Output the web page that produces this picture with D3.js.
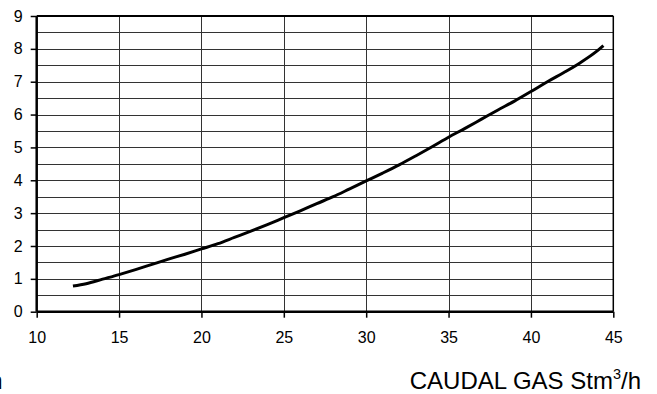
<!DOCTYPE html>
<html>
<head>
<meta charset="utf-8">
<script src="https://cdn.jsdelivr.net/npm/d3@7"></script>
<style>
  html, body { margin: 0; padding: 0; background: #fff; }
  svg { display: block; }
  text { font-family: "Liberation Sans", Arial, sans-serif; fill: #000; }
</style>
</head>
<body>
<svg id="chart" width="657" height="394"></svg>
<script>
// Gas flow (Stm³/h) against the measured quantity
const flow = [12.2, 13, 14, 15, 16, 17, 18, 19, 20, 21, 22, 23, 24, 25, 26, 27, 28, 29, 30,
              31, 32, 33, 34, 35, 36, 37, 38, 39, 40, 41, 42, 43, 44, 44.4];
const value = [0.78, 0.85, 0.99, 1.13, 1.28, 1.44, 1.6, 1.75, 1.91, 2.07, 2.26, 2.45, 2.65, 2.86,
               3.07, 3.29, 3.5, 3.74, 3.98, 4.22, 4.47, 4.74, 5.02, 5.31, 5.58, 5.86, 6.14,
               6.41, 6.70, 7.0, 7.28, 7.58, 7.93, 8.1];
const xTicks = [10, 15, 20, 25, 30, 35, 40, 45];
const yTicks = [0, 1, 2, 3, 4, 5, 6, 7, 8, 9];
const yGrid = [0.5, 1, 1.5, 2, 2.5, 3, 3.5, 4, 4.5, 5, 5.5, 6, 6.5, 7, 7.5, 8, 8.5];
const xTitle = ["CAUDAL GAS Stm", "3", "/h"];

const svg = d3.select("#chart");
const plotLeft = 36.7, plotRight = 613.3, plotTop = 16, plotBottom = 311.7;

const x = d3.scaleLinear().domain([10, 45]).range([plotLeft, plotRight]);
const y = d3.scaleLinear().domain([0, 9]).range([plotBottom, plotTop]);

// grid
svg.append("g").selectAll("line").data(yGrid).join("line")
  .attr("x1", plotLeft).attr("x2", plotRight)
  .attr("y1", d => Math.round(y(d)) + 0.5).attr("y2", d => Math.round(y(d)) + 0.5)
  .attr("stroke", "#333").attr("stroke-width", 1);
svg.append("g").selectAll("line").data(xTicks.slice(1, -1)).join("line")
  .attr("x1", d => Math.round(x(d)) + 0.5).attr("x2", d => Math.round(x(d)) + 0.5)
  .attr("y1", plotTop).attr("y2", plotBottom)
  .attr("stroke", "#333").attr("stroke-width", 1);

// frame: top and right
svg.append("line").attr("x1", plotLeft).attr("x2", plotRight).attr("y1", plotTop).attr("y2", plotTop)
  .attr("stroke", "#000").attr("stroke-width", 2);
svg.append("line").attr("x1", plotRight).attr("x2", plotRight).attr("y1", plotTop).attr("y2", plotBottom)
  .attr("stroke", "#000").attr("stroke-width", 1.5);

// axes
const xAxis = d3.axisBottom(x).tickValues(xTicks).tickSize(6).tickPadding(14);
const yAxis = d3.axisLeft(y).tickValues(yTicks).tickSize(6).tickPadding(8);

const gx = svg.append("g").attr("transform", `translate(0,${plotBottom})`).call(xAxis);
const gy = svg.append("g").attr("transform", `translate(${plotLeft},0)`).call(yAxis);
[gx, gy].forEach(g => {
  g.select(".domain").attr("stroke", "#000").attr("stroke-width", 2.5);
  g.selectAll(".tick line").attr("stroke", "#000").attr("stroke-width", 1.5);
  g.selectAll(".tick text").attr("font-size", 16)
    .attr("font-family", "'Liberation Sans', Arial, sans-serif").attr("fill", "#000");
});
gx.select(".domain").attr("d", `M${plotLeft},0H${plotRight}`);
gy.select(".domain").attr("d", `M0,${plotBottom}V${plotTop}`);

// curve
const line = d3.line().x((d, i) => x(flow[i])).y(d => y(d)).curve(d3.curveMonotoneX);
svg.append("path").datum(value)
  .attr("d", line)
  .attr("fill", "none").attr("stroke", "#000").attr("stroke-width", 3)
  .attr("stroke-linejoin", "round").attr("stroke-linecap", "butt");

// axis titles
const title = svg.append("text").attr("x", 641).attr("y", 388.5).attr("text-anchor", "end")
  .attr("font-size", 24);
title.append("tspan").text(xTitle[0]);
title.append("tspan").attr("font-size", 14.5).attr("dy", -9.5).text(xTitle[1]);
title.append("tspan").attr("dy", 9.5).text(xTitle[2]);
svg.append("text").attr("x", 2.5).attr("y", 388.5).attr("text-anchor", "end")
  .attr("font-size", 24).text("h");
</script>
</body>
</html>
